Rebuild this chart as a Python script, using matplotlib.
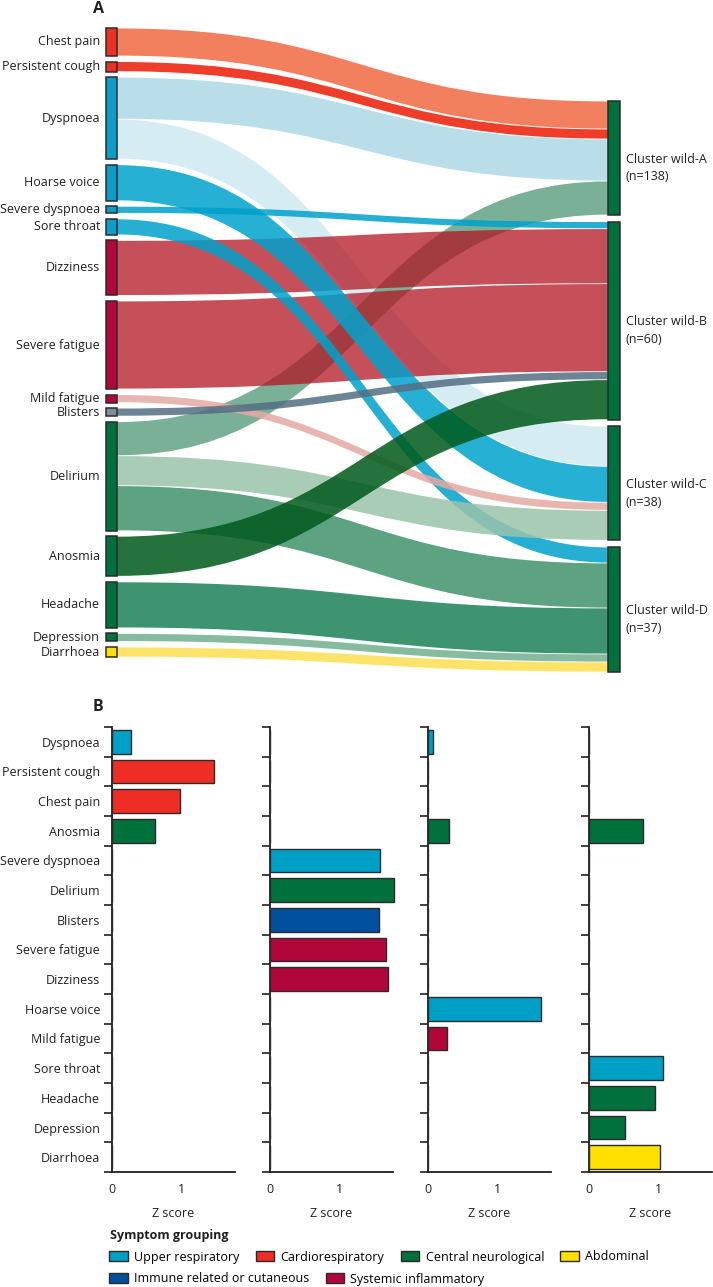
import numpy as np
import matplotlib.pyplot as plt
from matplotlib.path import Path
from matplotlib.patches import PathPatch, Rectangle, Patch
from matplotlib import colors as mcolors

plt.rcParams['font.family'] = ['Open Sans', 'DejaVu Sans']

# ---- panel A: sankey data ----
symptoms = ['Chest pain', 'Persistent cough', 'Dyspnoea', 'Hoarse voice', 'Severe dyspnoea',
            'Sore throat', 'Dizziness', 'Severe fatigue', 'Mild fatigue', 'Blisters',
            'Delirium', 'Anosmia', 'Headache', 'Depression', 'Diarrhoea']
symptom_colors = ['#EC3126', '#EC3126', '#0C9DC8', '#0C9DC8', '#0C9DC8',
                  '#0C9DC8', '#B00839', '#B00839', '#B00839', '#7D8EA2',
                  '#00703C', '#00703C', '#00703C', '#00703C', '#FFE000']
clusters = ['Cluster wild-A\n(n=138)', 'Cluster wild-B\n(n=60)',
            'Cluster wild-C\n(n=38)', 'Cluster wild-D\n(n=37)']

flow_src = ['Chest pain', 'Persistent cough', 'Dyspnoea', 'Dyspnoea', 'Hoarse voice',
            'Severe dyspnoea', 'Sore throat', 'Dizziness', 'Severe fatigue', 'Mild fatigue',
            'Blisters', 'Delirium', 'Delirium', 'Delirium', 'Anosmia', 'Headache',
            'Depression', 'Diarrhoea']
flow_dst = [0, 0, 0, 2, 2, 1, 3, 1, 1, 2, 1, 0, 2, 3, 1, 3, 3, 3]
flow_val = [28, 10, 42, 40, 36, 7, 16, 55, 88, 8, 8, 34, 30, 45, 40, 46, 8, 10]
flow_col = ['#F2805E', '#EE3E2B', '#B9DFEB', '#D6ECF4', '#00B0D4', '#08AFD3', '#12AFD2',
            '#C5505A', '#C5505A', '#E9B6B2', '#6E8496', '#7AB197', '#A9CCB8', '#5DA382',
            '#00723D', '#3E9570', '#87BB9F', '#FDE46A']

# ---- panel B: z scores per cluster ----
bar_labels = ['Dyspnoea', 'Persistent cough', 'Chest pain', 'Anosmia', 'Severe dyspnoea',
              'Delirium', 'Blisters', 'Severe fatigue', 'Dizziness', 'Hoarse voice',
              'Mild fatigue', 'Sore throat', 'Headache', 'Depression', 'Diarrhoea']
bar_group = ['Upper respiratory', 'Cardiorespiratory', 'Cardiorespiratory', 'Central neurological',
             'Upper respiratory', 'Central neurological', 'Immune related or cutaneous',
             'Systemic inflammatory', 'Systemic inflammatory', 'Upper respiratory',
             'Systemic inflammatory', 'Upper respiratory', 'Central neurological',
             'Central neurological', 'Abdominal']
nan = np.nan
z_wild_a = [0.28, 1.48, 0.99, 0.62, nan, nan, nan, nan, nan, nan, nan, nan, nan, nan, nan]
z_wild_b = [nan, nan, nan, nan, 1.59, 1.80, 1.58, 1.68, 1.71, nan, nan, nan, nan, nan, nan]
z_wild_c = [0.07, nan, nan, 0.31, nan, nan, nan, nan, nan, 1.64, 0.28, nan, nan, nan, nan]
z_wild_d = [nan, nan, nan, 0.78, nan, nan, nan, nan, nan, nan, nan, 1.07, 0.96, 0.52, 1.03]

group_names = ['Upper respiratory', 'Cardiorespiratory', 'Central neurological', 'Abdominal',
               'Immune related or cutaneous', 'Systemic inflammatory']
group_colors = ['#00A0C6', '#EE2E24', '#00703C', '#FFE000', '#0050A0', '#B0063A']
group_col = dict(zip(group_names, group_colors))

W, H = 713, 1287
EDGE = '#2b2b2b'
TXT = '#231f20'
FS = 9.0
RED_FLOW = '#C5505A'
# flows that sit underneath the red dizziness / fatigue ribbons
below_red = [('Delirium', 0), ('Dyspnoea', 2)]


def veil(hexcol, a=0.85):
    # base colour that shows as hexcol over white at alpha a
    r = np.array(mcolors.to_rgb(hexcol))
    return tuple(np.clip((r - (1 - a)) / a, 0, 1)) + (a,)


def ribbon(x0, x1, a0, a1, b0, b1):
    xm = (x0 + x1) / 2
    verts = [(x0, a0), (xm, a0), (xm, b0), (x1, b0), (x1, b1),
             (xm, b1), (xm, a1), (x0, a1), (x0, a0)]
    codes = [Path.MOVETO, Path.CURVE4, Path.CURVE4, Path.CURVE4, Path.LINETO,
             Path.CURVE4, Path.CURVE4, Path.CURVE4, Path.CLOSEPOLY]
    return Path(verts, codes)


fig = plt.figure(figsize=(W / 100, H / 100), dpi=100)

# ---------------- panel A ----------------
topA = 690
axA = fig.add_axes([0, 1 - topA / H, 1, topA / H])
axA.set_xlim(0, W)
axA.set_ylim(topA, 0)
axA.axis('off')

xl0, xl1 = 106, 117
xr0, xr1 = 608, 620
tot = sum(flow_val)

node_val = [sum(v for s, v in zip(flow_src, flow_val) if s == n) for n in symptoms]
gap_l = (657 - 28 - tot) / (len(symptoms) - 1)
left_y, y = [], 28
for v in node_val:
    left_y.append(y)
    y += v + gap_l

clus_val = [sum(v for d, v in zip(flow_dst, flow_val) if d == k) for k in range(len(clusters))]
gap_r = (672 - 101 - tot) / (len(clusters) - 1)
right_y, y = [], 101
for v in clus_val:
    right_y.append(y)
    y += v + gap_r

l_off = {n: left_y[i] for i, n in enumerate(symptoms)}
r_off = list(right_y)
for s, d, v, c in zip(flow_src, flow_dst, flow_val, flow_col):
    a0 = l_off[s]
    b0 = r_off[d]
    l_off[s] += v
    r_off[d] += v
    p = ribbon(xl1, xr0, a0 + 0.4, a0 + v - 0.4, b0 + 0.4, b0 + v - 0.4)
    if c == RED_FLOW:
        fc, z = veil(c, 0.75), 2
    elif (s, d) in below_red:
        fc, z = veil(c), 1
    else:
        fc, z = veil(c), 3
    axA.add_patch(PathPatch(p, facecolor=fc, edgecolor='none', zorder=z))

for i, n in enumerate(symptoms):
    axA.add_patch(Rectangle((xl0, left_y[i]), xl1 - xl0, node_val[i],
                            facecolor=symptom_colors[i], edgecolor=EDGE, lw=1.1, zorder=5))
    axA.text(xl0 - 6, left_y[i] + node_val[i] / 2, n, ha='right', va='center',
             fontsize=FS, color=TXT)

for k, n in enumerate(clusters):
    axA.add_patch(Rectangle((xr0, right_y[k]), xr1 - xr0, clus_val[k],
                            facecolor='#00703C', edgecolor=EDGE, lw=1.1, zorder=5))
    axA.text(xr1 + 6, right_y[k] + clus_val[k] / 2 + 10, n, ha='left', va='center',
             fontsize=FS, color=TXT, linespacing=1.45)

fig.text(93 / W, 1 - 9 / H, 'A', fontsize=11.5, fontweight='bold', ha='left', va='center',
         color=TXT)

# ---------------- panel B ----------------
fig.text(93 / W, 1 - 707 / H, 'B', fontsize=11.5, fontweight='bold', ha='left', va='center',
         color=TXT)

xmax = 1.78
bar_left_px = [112, 270, 428, 589]
ax_w = 69 * xmax
ax_bot, ax_top = 1172, 727
ypos = np.arange(len(bar_labels)) + 0.5
for j, zs in enumerate([z_wild_a, z_wild_b, z_wild_c, z_wild_d]):
    ax = fig.add_axes([bar_left_px[j] / W, 1 - ax_bot / H, ax_w / W, (ax_bot - ax_top) / H])
    cols = [group_col[g] for g in bar_group]
    ax.barh(ypos, np.nan_to_num(zs), height=0.8, color=cols, edgecolor=EDGE, linewidth=1.0,
            clip_on=False, zorder=3)
    ax.set_xlim(0, xmax)
    ax.set_ylim(len(bar_labels), 0)
    for sp in ['top', 'right']:
        ax.spines[sp].set_visible(False)
    for sp in ['left', 'bottom']:
        ax.spines[sp].set_linewidth(1.3)
        ax.spines[sp].set_color(TXT)
    ax.set_yticks(np.arange(len(bar_labels) + 1))
    ax.set_yticklabels([])
    ax.set_yticks(ypos, minor=True)
    ax.set_yticklabels(bar_labels if j == 0 else [], minor=True, fontsize=FS, color=TXT)
    ax.tick_params(axis='y', which='major', direction='out', length=6, width=1.2, color=TXT)
    ax.tick_params(axis='y', which='minor', length=0, pad=8.5)
    ax.set_xticks([0, 1])
    ax.set_xticklabels(['0', '1'], fontsize=FS, color=TXT)
    ax.tick_params(axis='x', length=0, pad=8)
    ax.set_xlabel('Z score', fontsize=FS, color=TXT, labelpad=8)

# legend
fig.text(110 / W, 1 - 1235 / H, 'Symptom grouping', fontsize=FS, fontweight='bold',
         ha='left', va='center', color=TXT)
row1 = [Patch(facecolor=group_col[g], edgecolor=EDGE, lw=1.0) for g in group_names[:4]]
row2 = [Patch(facecolor=group_col[g], edgecolor=EDGE, lw=1.0) for g in group_names[4:]]
leg_kw = dict(frameon=False, fontsize=FS, handlelength=1.5, handleheight=0.9,
              handletextpad=0.5, columnspacing=1.3, borderpad=0, borderaxespad=0)
fig.legend(row1, group_names[:4], ncol=4, loc='center left',
           bbox_to_anchor=(109 / W, 1 - 1257 / H), **leg_kw)
fig.legend(row2, group_names[4:], ncol=2, loc='center left',
           bbox_to_anchor=(109 / W, 1 - 1279 / H), **leg_kw)

fig.savefig('out.png', dpi=100)
